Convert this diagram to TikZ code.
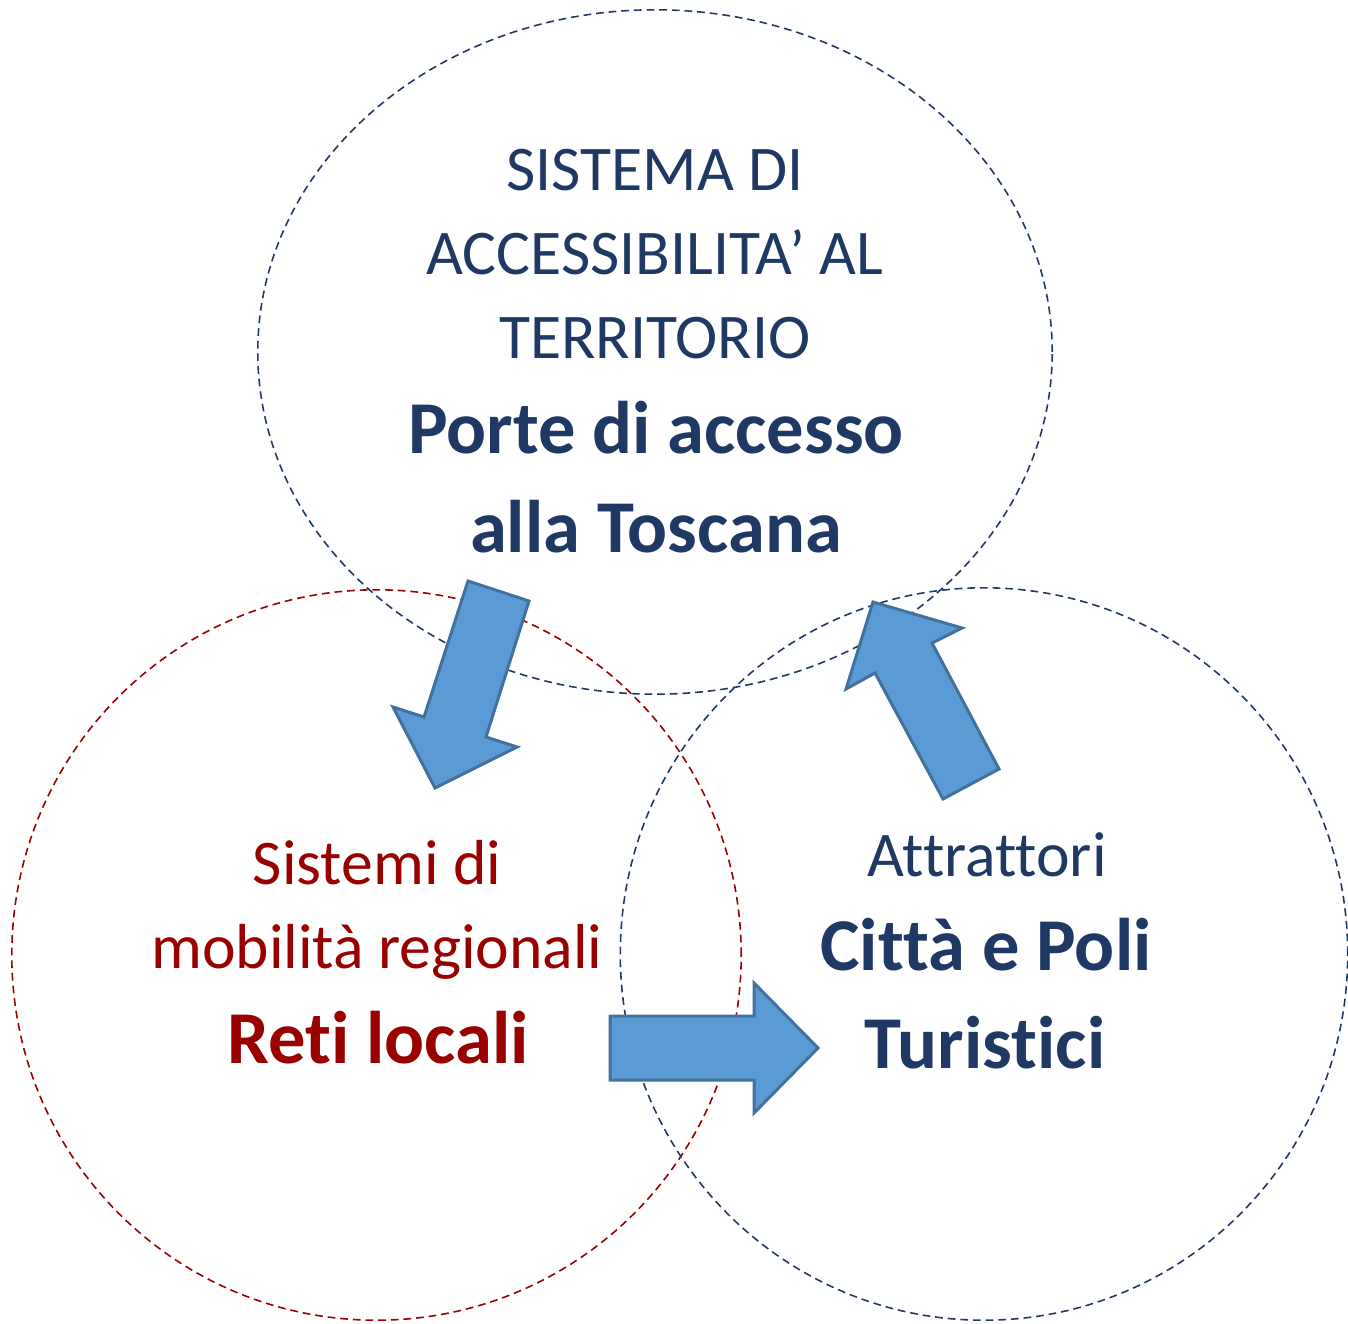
\documentclass[tikz,border=0pt]{standalone}
\usepackage{fontspec}
\setmainfont[RawFeature=-liga]{Carlito}
\usetikzlibrary{shapes.geometric}

\definecolor{navy}{RGB}{31,56,100}
\definecolor{darkred}{RGB}{153,0,0}
\definecolor{arrowfill}{RGB}{91,155,213}
\definecolor{arrowline}{RGB}{65,113,156}

\tikzset{
  circ/.style={draw, ellipse, inner sep=0pt, line width=0.45pt, dash pattern=on 2.2pt off 1.4pt},
  plain/.style={anchor=base, font=\fontsize{18.1}{22}\selectfont},
  strong/.style={anchor=base, font=\fontsize{21.2}{25}\selectfont\bfseries},
  blockarrow/.style={fill=arrowfill, draw=arrowline, line width=0.85pt, line join=miter}
}

\begin{document}
\begin{tikzpicture}[x=0.01cm, y=-0.01cm]
\useasboundingbox (0,0) rectangle (1348,1324);
% the three areas
\node [circ, navy, minimum width=7.94cm, minimum height=6.84cm] (top) at (655,352) {};
\node [circ, darkred, minimum width=7.29cm, minimum height=7.30cm] (left) at (376.5,955) {};
\node [circ, navy, minimum width=7.27cm, minimum height=7.32cm] (right) at (984,954) {};
% texts
\node [plain, navy] (t1) at (655,190) {SISTEMA DI};
\node [plain, navy] (t2) at (655,274) {ACCESSIBILITA’ AL};
\node [plain, navy] (t3) at (655,358) {TERRITORIO};
\node [strong, navy] (t4) at (656,453) {Porte di accesso};
\node [strong, navy] (t5) at (656,552) {alla Toscana};
\node [plain, darkred] (l1) at (377,884) {Sistemi di};
\node [plain, darkred] (l2) at (377,968) {mobilità regionali};
\node [strong, darkred] (l3) at (378,1063) {Reti locali};
\node [plain, navy] (r1) at (987,876) {Attrattori};
\node [strong, navy] (r2) at (986,970) {Città e Poli};
\node [strong, navy] (r3) at (985,1068) {Turistici};
% block arrows
\draw [blockarrow] (468,581) -- (529,601) -- (486,737) -- (517,747) -- (435,788) -- (393,707) -- (424,717) -- cycle;
\draw [blockarrow] (610,1016) -- (754,1016) -- (754,983) -- (818,1048) -- (754,1113) -- (754,1080) -- (610,1080) -- cycle;
\draw [blockarrow] (943,799) -- (875,673) -- (846,689) -- (873,602) -- (962,628) -- (932,643) -- (999,769) -- cycle;
\end{tikzpicture}
\end{document}
